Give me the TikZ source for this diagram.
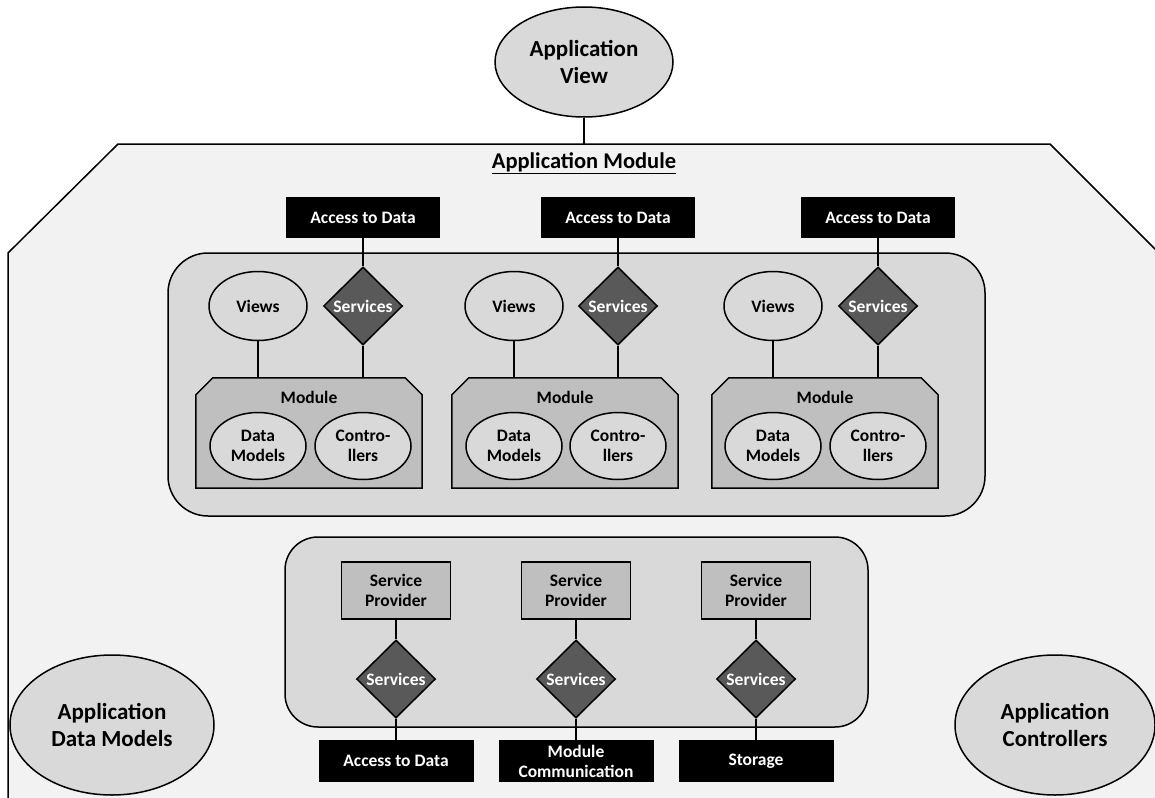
\documentclass[tikz,border=0pt]{standalone}
\usepackage{fontspec}
\setmainfont{Carlito}
\usetikzlibrary{shapes.geometric}
\definecolor{outerfill}{HTML}{F2F2F2}
\definecolor{midfill}{HTML}{D9D9D9}
\definecolor{modfill}{HTML}{BFBFBF}
\definecolor{svcfill}{HTML}{595959}
\tikzset{
  small/.style={font=\bfseries\fontsize{17.5}{20}\selectfont, align=center},
  big/.style={font=\bfseries\fontsize{23}{27}\selectfont, align=center},
  oval/.style={ellipse, draw, line width=1.5pt, fill=midfill, inner sep=0pt, small},
  svc/.style={diamond, draw, line width=1.5pt, fill=svcfill, text=white, inner sep=0pt,
    minimum width=79pt, minimum height=78pt, small},
  blackbox/.style={rectangle, fill=black, text=white, inner sep=0pt,
    minimum width=154pt, minimum height=41pt, small},
  provider/.style={rectangle, draw, line width=1.5pt, fill=modfill, inner sep=0pt,
    minimum width=109pt, minimum height=57pt, small},
  modbox/.style={rectangle, inner sep=0pt, minimum width=226pt, minimum height=110pt},
  modline/.style={draw, line width=1.5pt, fill=modfill},
  panel/.style={draw, line width=1.5pt, fill=midfill},
  conn/.style={line width=2.8pt},
}
\begin{document}
\begin{tikzpicture}[x=1pt,y=-1pt]
\useasboundingbox (0,0) rectangle (1155,797);
\clip (0,0) rectangle (1155,797);
% outer application module shape
\draw[line width=1.5pt, fill=outerfill] (8,810) -- (8,253) -- (118,144) -- (1050,144) -- (1175,269) -- (1175,810);
\node[font=\bfseries\fontsize{22.5}{26}\selectfont] (title) at (584,163) {\underline{Application Module}};

% Application View
\node[oval, big, minimum width=178pt, minimum height=110pt] (appview) at (584,62) {Application\\View};
\coordinate (outertop) at (584,144);
\draw[conn] (appview.south) -- (outertop);

% upper panel
\draw[panel, rounded corners=40pt] (168,253) rectangle (985,516);
% lower panel
\draw[panel, rounded corners=33pt] (285,537) rectangle (868,727);

% three module groups
\foreach \i/\vx/\sx/\mx in {1/258/363/309, 2/514/618/565, 3/773/878/825}{
  \node[blackbox] (acc\i) at (\sx,217.5) {Access to Data};
  \node[svc] (svc\i) at (\sx,306) {Services};
  \node[oval, minimum width=98pt, minimum height=69pt] (view\i) at (\vx,306) {Views};
  \node[modbox] (mod\i) at (\mx,433) {};
  \path[modline] (mod\i.south west) -- ([yshift=-17pt]mod\i.north west) -- ([xshift=17pt]mod\i.north west)
     -- ([xshift=-17pt]mod\i.north east) -- ([yshift=-17pt]mod\i.north east) -- (mod\i.south east) -- cycle;
  \node[small] (modlab\i) at (\mx,397) {Module};
  \node[oval, minimum width=96pt, minimum height=67pt] (dm\i) at (\vx,446) {Data\\Models};
  \node[oval, minimum width=96pt, minimum height=67pt] (ctl\i) at (\sx,446) {Contro-\\llers};
  \draw[conn] (acc\i.south) -- (svc\i.north);
  \draw[conn] (svc\i.south) -- (svc\i.south |- mod\i.north);
  \draw[conn] (view\i.south) -- (view\i.south |- mod\i.north);
}

% service providers
\foreach \i/\x/\lab in {1/396/{Access to Data}, 2/576/{Module\\Communication}, 3/756/{Storage}}{
  \node[provider] (sp\i) at (\x,590.5) {Service\\Provider};
  \node[svc] (bsvc\i) at (\x,679) {Services};
  \node[blackbox, minimum width=155pt, minimum height=42pt] (out\i) at (\x,761) {\lab};
  \draw[conn] (sp\i.south) -- (bsvc\i.north);
  \draw[conn] (bsvc\i.south) -- (out\i.north);
}

% application data models / controllers
\node[oval, big, minimum width=204pt, minimum height=140pt] (adm) at (112,725) {Application\\Data Models};
\node[oval, big, minimum width=200pt, minimum height=140pt] (actl) at (1055,725) {Application\\Controllers};
\end{tikzpicture}
\end{document}
